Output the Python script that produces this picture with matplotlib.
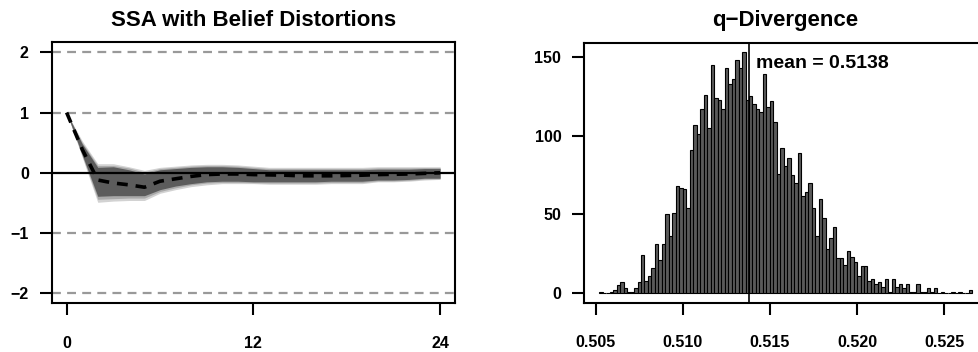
import numpy as np
import matplotlib
matplotlib.use("Agg")
import matplotlib.pyplot as plt

plt.rcParams['font.family'] = ['Liberation Sans', 'DejaVu Sans']
plt.rcParams['font.weight'] = 'bold'

# ---- left panel: impulse response fan ----
horizon = list(range(25))
irf_median = [1.0, 0.39, -0.12, -0.17, -0.20, -0.24, -0.14, -0.10, -0.06, -0.03,
              -0.02, -0.02, -0.03, -0.035, -0.04, -0.05, -0.05, -0.05, -0.045, -0.04,
              -0.03, -0.025, -0.02, -0.01, 0.0]
# light (outer) band
irf_lo_outer = [1.0, 0.26, -0.49, -0.47, -0.46, -0.46, -0.34, -0.28, -0.23, -0.20,
                -0.18, -0.18, -0.18, -0.19, -0.19, -0.19, -0.19, -0.18, -0.18, -0.18,
                -0.15, -0.15, -0.14, -0.12, -0.11]
irf_hi_outer = [1.0, 0.53, 0.15, 0.15, 0.10, 0.04, 0.09, 0.11, 0.13, 0.14,
                0.14, 0.13, 0.11, 0.09, 0.09, 0.09, 0.09, 0.09, 0.09, 0.09,
                0.10, 0.10, 0.10, 0.10, 0.10]
# middle band
irf_lo_mid = [1.0, 0.28, -0.44, -0.43, -0.42, -0.42, -0.31, -0.25, -0.20, -0.17,
              -0.16, -0.16, -0.165, -0.17, -0.17, -0.17, -0.17, -0.16, -0.16, -0.16,
              -0.135, -0.135, -0.125, -0.105, -0.10]
irf_hi_mid = [1.0, 0.50, 0.12, 0.12, 0.08, 0.01, 0.07, 0.09, 0.11, 0.12,
              0.12, 0.11, 0.09, 0.07, 0.07, 0.07, 0.07, 0.07, 0.07, 0.07,
              0.08, 0.08, 0.08, 0.085, 0.085]
# dark (inner) band
irf_lo_in = [1.0, 0.30, -0.39, -0.38, -0.38, -0.38, -0.28, -0.22, -0.18, -0.15,
             -0.14, -0.14, -0.15, -0.15, -0.15, -0.15, -0.15, -0.14, -0.14, -0.14,
             -0.12, -0.12, -0.11, -0.09, -0.09]
irf_hi_in = [1.0, 0.48, 0.09, 0.10, 0.05, -0.02, 0.05, 0.07, 0.09, 0.10,
             0.10, 0.09, 0.07, 0.05, 0.05, 0.05, 0.05, 0.05, 0.05, 0.05,
             0.06, 0.06, 0.06, 0.07, 0.07]
irf_xticks = [0, 12, 24]
irf_yticks = [-2, -1, 0, 1, 2]
irf_grid = [-2, -1, 1, 2]

# ---- right panel: histogram of q-divergence ----
bin_start = 0.5052
bin_width = 0.0002
counts = [1, 0, 0, 1, 2, 5, 7, 3, 1, 1,
          3, 7, 24, 8, 11, 16, 31, 21, 31, 50,
          36, 51, 68, 67, 66, 54, 91, 107, 101, 117,
          126, 105, 145, 124, 123, 117, 143, 133, 136, 148,
          143, 153, 123, 125, 120, 117, 115, 139, 118, 122,
          109, 76, 92, 81, 86, 75, 70, 89, 62, 64,
          70, 54, 36, 60, 48, 28, 35, 42, 22, 22,
          18, 27, 23, 20, 11, 17, 17, 8, 9, 6,
          7, 4, 9, 1, 9, 4, 6, 3, 6, 1,
          1, 6, 1, 1, 3, 1, 3, 0, 1, 0,
          0, 1, 0, 1, 0, 0, 2]
q_mean = 0.5138
hist_xticks = [0.505, 0.510, 0.515, 0.520, 0.525]
hist_xlabels = ["0.505", "0.510", "0.515", "0.520", "0.525"]
hist_yticks = [0, 50, 100, 150]

fig = plt.figure(figsize=(9.79, 3.52), dpi=100)
ax1 = fig.add_axes([0.0528, 0.1384, 0.412, 0.7415])
ax2 = fig.add_axes([0.5968, 0.1400, 0.4113, 0.7386])

for ax in (ax1, ax2):
    for s in ax.spines.values():
        s.set_linewidth(1.5)
    ax.tick_params(direction='out', length=8.5, width=1.5, labelsize=11.5)
    ax.tick_params(axis='x', pad=15)
    ax.tick_params(axis='y', pad=8)

# left
for g in irf_grid:
    ax1.axhline(g, color='#999999', lw=1.6, dashes=(4, 2.8), zorder=1)
ax1.fill_between(horizon, irf_lo_outer, irf_hi_outer, color='#d2d2d2', lw=0, zorder=2)
ax1.fill_between(horizon, irf_lo_mid, irf_hi_mid, color='#a9a9a9', lw=0, zorder=3)
ax1.fill_between(horizon, irf_lo_in, irf_hi_in, color='#5c5c5c', lw=0, zorder=4)
ax1.axhline(0, color='black', lw=1.6, zorder=5)
ax1.plot(horizon, irf_median, color='black', lw=2.6, dashes=(3, 2.2), zorder=6)
ax1.set_xlim(-0.96, 24.96)
ax1.set_ylim(-2.166, 2.166)
ax1.set_xticks(irf_xticks)
ax1.set_yticks(irf_yticks)
ax1.set_yticklabels(["\u22122", "\u22121", "0", "1", "2"])
ax1.set_title("SSA with Belief Distortions", fontsize=16, fontweight='bold', pad=12)

# right
lefts = [bin_start + bin_width * k for k in range(len(counts))]
ax2.bar(lefts, counts, width=bin_width, align='edge', color='#5a5a5a',
        edgecolor='black', linewidth=0.8, zorder=2)
ax2.axvline(q_mean, color='black', lw=1.2, zorder=3)
ax2.annotate(f"mean = {q_mean:.4f}", xy=(q_mean, 146), xytext=(5, 0),
             textcoords='offset points', va='center', ha='left',
             fontsize=14, fontweight='bold')
x_lo = bin_start
x_hi = bin_start + bin_width * len(counts)
ext = 0.04 * (x_hi - x_lo)
ax2.set_xlim(x_lo - ext, x_hi + ext)
ymax = max(counts)
ax2.set_ylim(-0.04 * ymax, 1.04 * ymax)
ax2.set_xticks(hist_xticks)
ax2.set_xticklabels(hist_xlabels)
ax2.set_yticks(hist_yticks)
ax2.set_title("q\u2212Divergence", fontsize=16, fontweight='bold', pad=12,
              x=(0.5 * (584.3 + 987) - 584.3) / (987 - 584.3))

fig.savefig("out.png", dpi=100)
